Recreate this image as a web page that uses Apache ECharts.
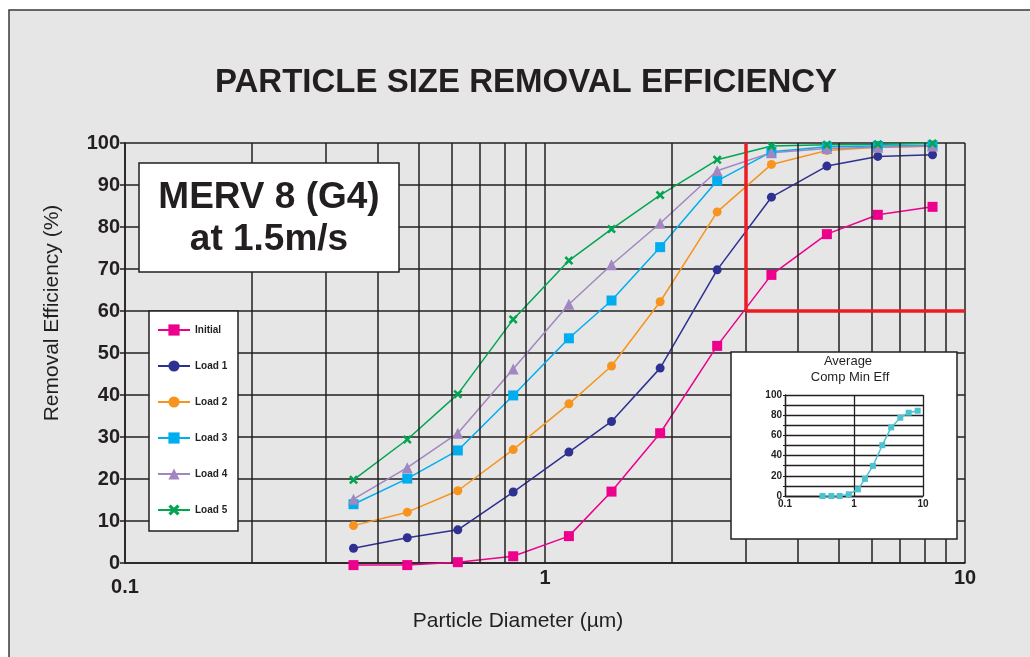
<!DOCTYPE html>
<html lang="en">
<head>
    <meta charset="UTF-8">
    <title>Particle Size Removal Efficiency</title>
    <style>
        html, body { margin: 0; padding: 0; background: #fff; }
        #chart { width: 1030px; height: 657px; }
    </style>
</head>
<body>
<div id="chart"></div>
<script src="https://cdn.jsdelivr.net/npm/echarts@6/dist/echarts.min.js"></script>
<script>
    // size channels (um) and efficiencies (%)
    const sizes = [0.35, 0.47, 0.62, 0.84, 1.14, 1.44, 1.88, 2.57, 3.46, 4.69, 6.2, 8.37];
    const initial = [-0.5, -0.5, 0.2, 1.6, 6.4, 17, 30.9, 51.7, 68.6, 78.3, 82.9, 84.8];
    const load1 = [3.5, 6.0, 7.9, 16.9, 26.4, 33.7, 46.4, 69.8, 87.1, 94.5, 96.8, 97.2];
    const load2 = [8.9, 12.1, 17.2, 27.0, 37.9, 46.9, 62.2, 83.6, 94.9, 98.2, 99.0, 99.2];
    const load3 = [14.0, 20.1, 26.8, 39.9, 53.5, 62.5, 75.2, 91.0, 97.9, 99.1, 99.3, 99.4];
    const load4 = [15.2, 22.7, 30.9, 46.2, 61.6, 71.0, 80.9, 93.4, 97.7, 98.7, 99.0, 99.3];
    const load5 = [19.8, 29.4, 40.2, 58.0, 72.0, 79.5, 87.6, 96.0, 99.3, 99.6, 99.7, 99.9];
    const avgMin = [0, 0, 0, 1.7, 6.6, 16.9, 29.8, 50.3, 67.9, 77.5, 82.5, 84.4];

    const seriesNames = ['Initial', 'Load 1', 'Load 2', 'Load 3', 'Load 4', 'Load 5'];
    const minorLines = [0.2, 0.3, 0.4, 0.5, 0.6, 0.7, 0.8, 0.9, 2, 3, 4, 5, 6, 7, 8, 9];
    // red limit box: x = 3 um, y = 60 %
    const limitX = 3, limitY = 60;

    const ink = '#231f20';
    const font = "'Liberation Sans', Arial, sans-serif";
    const crossPath = 'path://M2,0L5,3L8,0L10,2L7,5L10,8L8,10L5,7L2,10L0,8L3,5L0,2Z';

    function pts(vals) {
        return sizes.map(function (s, i) { return [s, vals[i]]; });
    }

    function dataSeries(name, vals, color, symbol, size) {
        return {
            name: name,
            type: 'line',
            clip: false,
            data: pts(vals),
            symbol: symbol,
            symbolSize: size,
            lineStyle: {color: color, width: 1.5},
            itemStyle: {color: color},
            z: 3
        };
    }

    let myChart = echarts.init(document.getElementById('chart'));

    let option = {
        animation: false,
        textStyle: {fontFamily: font},
        grid: [
            {left: 125, top: 143, width: 840, height: 420},
            {left: 785, top: 395, width: 138, height: 101}
        ],
        xAxis: [
            {
                type: 'log', logBase: 10, min: 0.1, max: 10, gridIndex: 0,
                axisLine: {show: true, lineStyle: {color: ink, width: 1.5}},
                axisTick: {show: false},
                splitLine: {show: true, lineStyle: {color: ink, width: 1.5}},
                axisLabel: {
                    margin: 5, showMinLabel: true, showMaxLabel: true,
                    formatter: function (v) {
                        return v < 0.5 ? '{lo|0.1}' : '{n|' + Math.round(v) + '}';
                    },
                    rich: {
                        lo: {fontSize: 20, fontWeight: 'bold', color: ink, fontFamily: font, padding: [9, 0, 0, 0]},
                        n: {fontSize: 20, fontWeight: 'bold', color: ink, fontFamily: font}
                    }
                }
            },
            {
                type: 'log', logBase: 10, min: 0.1, max: 10, gridIndex: 1, z: 20,
                axisLine: {show: true, lineStyle: {color: ink, width: 1.3}},
                axisTick: {show: false},
                splitLine: {show: true, lineStyle: {color: ink, width: 1.3}},
                axisLabel: {
                    margin: 3, fontSize: 10, fontWeight: 'bold', color: ink,
                    showMinLabel: true, showMaxLabel: true,
                    formatter: function (v) { return v < 0.5 ? '0.1' : String(Math.round(v)); }
                }
            }
        ],
        yAxis: [
            {
                type: 'value', min: 0, max: 100, interval: 10, gridIndex: 0,
                axisLine: {show: true, lineStyle: {color: ink, width: 1.5}},
                axisTick: {show: true, length: 5, lineStyle: {color: ink, width: 1.5}},
                splitLine: {show: true, lineStyle: {color: ink, width: 1.5}},
                axisLabel: {margin: 5, fontSize: 20, fontWeight: 'bold', color: ink}
            },
            {
                type: 'value', min: 0, max: 100, interval: 10, gridIndex: 1, z: 20,
                axisLine: {show: true, lineStyle: {color: ink, width: 1.3}},
                axisTick: {show: true, length: 2, lineStyle: {color: ink, width: 1}},
                splitLine: {show: true, lineStyle: {color: ink, width: 1.3}},
                axisLabel: {
                    margin: 3, fontSize: 10, fontWeight: 'bold', color: ink,
                    formatter: function (v) { return v % 20 === 0 ? String(v) : ''; }
                }
            }
        ],
        legend: {
            data: seriesNames,
            orient: 'vertical',
            left: 157, top: 323, padding: 0,
            itemWidth: 32, itemHeight: 14, itemGap: 22,
            textStyle: {fontSize: 10, fontWeight: 'bold', color: ink, lineHeight: 14},
            z: 30
        },
        series: [
            // minor log gridlines
            {
                type: 'line', data: [], silent: true, z: 1,
                markLine: {
                    silent: true, symbol: ['none', 'none'], animation: false,
                    label: {show: false},
                    lineStyle: {color: ink, width: 1.5, type: 'solid'},
                    data: minorLines.map(function (v) { return {xAxis: v}; })
                }
            },
            // red limit lines
            {
                type: 'line', data: [], silent: true, z: 2,
                markLine: {
                    silent: true, symbol: ['none', 'none'], animation: false,
                    label: {show: false},
                    lineStyle: {color: '#ed1c24', width: 3.5, type: 'solid'},
                    data: [
                        [{coord: [limitX, limitY]}, {coord: [limitX, 100]}],
                        [{coord: [limitX, limitY]}, {coord: [10, limitY]}]
                    ]
                }
            },
            dataSeries('Initial', initial, '#ec008c', 'rect', 10),
            dataSeries('Load 1', load1, '#2e3192', 'circle', 9),
            dataSeries('Load 2', load2, '#f7941d', 'circle', 9),
            dataSeries('Load 3', load3, '#00aeef', 'rect', 10),
            dataSeries('Load 4', load4, '#a286c0', 'triangle', 11),
            dataSeries('Load 5', load5, '#00a651', crossPath, 9),
            // inset: average composite minimum efficiency
            {
                name: 'Average Comp Min Eff',
                type: 'line', xAxisIndex: 1, yAxisIndex: 1, z: 21,
                data: pts(avgMin),
                symbol: 'rect', symbolSize: 6,
                lineStyle: {color: '#4cc4cf', width: 1.5},
                itemStyle: {color: '#4cc4cf'}
            }
        ],
        graphic: [
            {
                type: 'rect', z: -100, silent: true,
                shape: {x: 9, y: 10, width: 1040, height: 680},
                style: {fill: '#e6e6e6', stroke: '#3a3a3a', lineWidth: 1.5}
            },
            {
                type: 'text', z: 30, x: 526, y: 83, silent: true,
                style: {
                    text: 'PARTICLE SIZE REMOVAL EFFICIENCY', fill: ink,
                    font: 'bold 33px ' + font,
                    align: 'center', verticalAlign: 'middle', textAlign: 'center', textVerticalAlign: 'middle'
                }
            },
            // MERV label box
            {
                type: 'rect', z: 10, silent: true,
                shape: {x: 139, y: 163, width: 260, height: 109},
                style: {fill: '#fff', stroke: ink, lineWidth: 1.5}
            },
            {
                type: 'text', z: 30, x: 269, y: 198, silent: true,
                style: {
                    text: 'MERV 8 (G4)', fill: ink, font: 'bold 37px ' + font,
                    align: 'center', verticalAlign: 'middle', textAlign: 'center', textVerticalAlign: 'middle'
                }
            },
            {
                type: 'text', z: 30, x: 269, y: 240, silent: true,
                style: {
                    text: 'at 1.5m/s', fill: ink, font: 'bold 37px ' + font,
                    align: 'center', verticalAlign: 'middle', textAlign: 'center', textVerticalAlign: 'middle'
                }
            },
            // legend box
            {
                type: 'rect', z: 10, silent: true,
                shape: {x: 149, y: 311, width: 89, height: 220},
                style: {fill: '#fff', stroke: ink, lineWidth: 1.5}
            },
            // inset box
            {
                type: 'rect', z: 10, silent: true,
                shape: {x: 731, y: 352, width: 226, height: 187},
                style: {fill: '#fff', stroke: ink, lineWidth: 1.5}
            },
            {
                type: 'text', z: 30, x: 848, y: 361, silent: true,
                style: {
                    text: 'Average', fill: ink, font: '13px ' + font,
                    align: 'center', verticalAlign: 'middle', textAlign: 'center', textVerticalAlign: 'middle'
                }
            },
            {
                type: 'text', z: 30, x: 850, y: 377, silent: true,
                style: {
                    text: 'Comp Min Eff', fill: ink, font: '13px ' + font,
                    align: 'center', verticalAlign: 'middle', textAlign: 'center', textVerticalAlign: 'middle'
                }
            },
            // axis names
            {
                type: 'text', z: 30, x: 518, y: 621, silent: true,
                style: {
                    text: 'Particle Diameter (µm)', fill: ink, font: '21px ' + font,
                    align: 'center', verticalAlign: 'middle', textAlign: 'center', textVerticalAlign: 'middle'
                }
            },
            {
                type: 'text', z: 30, x: 52, y: 313, rotation: Math.PI / 2, silent: true,
                style: {
                    text: 'Removal Efficiency (%)', fill: ink, font: '21px ' + font,
                    align: 'center', verticalAlign: 'middle', textAlign: 'center', textVerticalAlign: 'middle'
                }
            }
        ]
    };

    myChart.setOption(option);
</script>
</body>
</html>
